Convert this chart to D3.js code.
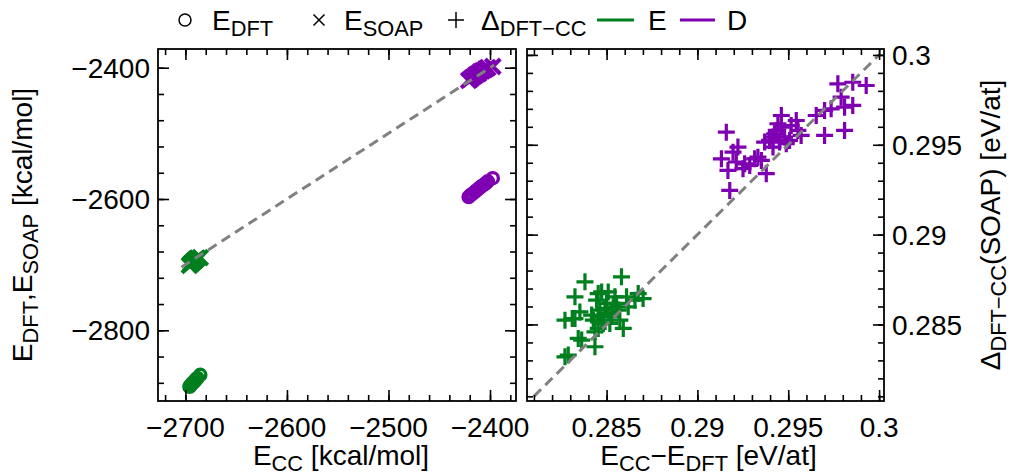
<!DOCTYPE html>
<html>
<head>
<meta charset="utf-8">
<script src="https://cdn.jsdelivr.net/npm/d3@7"></script>
<style>
  html, body { margin: 0; padding: 0; background: #fff; }
  svg text { font-family: "Liberation Sans", Arial, Helvetica, sans-serif; fill: #000; }
</style>
</head>
<body>
<svg id="chart" width="1011" height="472"></svg>
<script>
// ---------------- DATA ----------------
const seriesNames = ["E", "D"];

// Left panel: energies in kcal/mol
const eCC_E   = [-2696, -2695.2, -2694.1, -2693.5, -2692.4, -2691.8, -2691, -2690.3, -2689.6, -2689, -2688.2, -2685.4];
const eDFT_E  = [-2886, -2884.5, -2882.3, -2881, -2879.6, -2878.8, -2877.5, -2876.4, -2875, -2874.1, -2872.6, -2867.8];
const eSOAP_E = [-2701, -2699.4, -2698.5, -2697, -2695.8, -2694.6, -2693.9, -2692.5, -2692, -2690.8, -2690.1, -2689.2];

const eCC_D   = [-2421, -2419.3, -2417.6, -2415.2, -2413.5, -2411.4, -2409.8, -2407.6, -2405.1, -2403.4, -2402.2, -2397.3];
const eDFT_D  = [-2597, -2594.2, -2592.4, -2589.5, -2587.1, -2584.6, -2582.3, -2579.8, -2577.2, -2575, -2573.1, -2568.3];
const eSOAP_D = [-2419.2, -2417.5, -2415.1, -2412.4, -2410.3, -2408.9, -2406.2, -2404.8, -2402.7, -2401.1, -2399.8, -2398.2];

// Left panel reference line (y = x) endpoints
const diagLeft = [-2704, -2396];

// Right panel: E_CC - E_DFT (x) vs Delta_DFT-CC(SOAP) (y), eV/atom
const dX_E = [0.28271,0.28289,0.28271,0.28311,0.28326,0.28381,0.28582,0.28353,0.28344,0.28363,0.28436,0.28436,0.28454,0.28454,0.28473,0.28509,0.28546,0.28491,0.28463,0.28454,0.28473,0.28509,0.28527,0.28555,0.28564,0.28592,0.28619,0.28610,0.28674,0.28701,0.28427,0.28500,0.28445,0.28518,0.28482,0.28418,0.28573,0.28537,0.28656,0.28326];
const dY_E = [0.28320,0.28330,0.28524,0.28533,0.28654,0.28737,0.28765,0.28570,0.28422,0.28413,0.28376,0.28459,0.28478,0.28672,0.28681,0.28681,0.28654,0.28589,0.28580,0.28543,0.28524,0.28543,0.28561,0.28617,0.28580,0.28478,0.28598,0.28654,0.28672,0.28644,0.28524,0.28617,0.28635,0.28506,0.28506,0.28552,0.28524,0.28598,0.28635,0.28533];

const dX_D = [0.29159,0.29178,0.29132,0.29168,0.29196,0.29223,0.29214,0.29251,0.29260,0.29288,0.29315,0.29333,0.29352,0.29379,0.29370,0.29397,0.29416,0.29425,0.29434,0.29462,0.29462,0.29480,0.29489,0.29544,0.29553,0.29571,0.29507,0.29452,0.29654,0.29700,0.29700,0.29810,0.29773,0.29855,0.29929,0.29791,0.29855,0.29810,0.29736,0.29443,0.29516,0.29416];
const dY_D = [0.29570,0.29246,0.29422,0.29357,0.29459,0.29487,0.29404,0.29367,0.29394,0.29385,0.29422,0.29431,0.29413,0.29339,0.29515,0.29524,0.29543,0.29561,0.29580,0.29663,0.29598,0.29543,0.29506,0.29635,0.29580,0.29552,0.29524,0.29515,0.29663,0.29691,0.29552,0.29580,0.29839,0.29848,0.29830,0.29765,0.29719,0.29709,0.29700,0.29617,0.29607,0.29487];

// Right panel reference line (y = x) endpoints
const diagRight = [0.281, 0.300];

// Axis domains and ticks
const leftXDomain = [-2727, -2374.4];
const leftYDomain = [-2907.7, -2371.5];
const leftXMajor = [-2700, -2600, -2500, -2400];
const leftXMinor = d3.range(-2720, -2379, 20);
const leftYMajor = [-2400, -2600, -2800];
const leftYMinor = d3.range(-2880, -2399, 40);

const rightXDomain = [0.28062, 0.30027];
const rightYDomain = [0.28074, 0.30033];
const rightXMajor = [0.285, 0.29, 0.295, 0.3];
const rightXLabels = ["0.285", "0.29", "0.295", "0.3"];
const rightYMajor = [0.285, 0.29, 0.295, 0.3];
const rightYLabels = ["0.285", "0.29", "0.295", "0.3"];
const rightMinor = d3.range(281, 301).map(v => v / 1000);

// ---------------- STYLE / LAYOUT ----------------
const COLORS = { E: "#007f1f", D: "#7f00b2" };
const GRAY = "#808080";
const FS = 28;
const SUB = 0.78;
const PL = { x0: 158, x1: 516, y0: 49, y1: 401 };
const PR = { x0: 527, x1: 884, y0: 49, y1: 401 };
const MAJ = 11, MIN = 6;

const svg = d3.select("#chart");

function rich(sel, parts, fs) {
  let shift = 0;
  parts.forEach(p => {
    const [t, sub] = p;
    const ts = sel.append("tspan").text(t);
    if (sub) {
      const d = fs * 0.2;
      ts.attr("font-size", fs * SUB).attr("dy", d - shift);
      shift = d;
    } else {
      ts.attr("font-size", fs);
      if (shift) ts.attr("dy", -shift);
      shift = 0;
    }
  });
}

const fmtMinus = v => String(v).replace("-", "\u2212");

function panel(P, xs, ys, opts) {
  const g = svg.append("g");
  const clipId = "clip" + opts.id;
  svg.append("clipPath").attr("id", clipId).append("rect")
    .attr("x", P.x0).attr("y", P.y0).attr("width", P.x1 - P.x0).attr("height", P.y1 - P.y0);
  const plot = g.append("g").attr("clip-path", `url(#${clipId})`);

  const mk = (axisFn, scale, vals, len) => axisFn(scale).tickValues(vals).tickSize(len).tickFormat("");
  const axes = g.append("g").attr("class", "axes");
  [[P.y1, d3.axisTop], [P.y0, d3.axisBottom]].forEach(([y, fn]) => {
    axes.append("g").attr("transform", `translate(0,${y})`).call(mk(fn, xs, opts.xMinor, MIN));
    axes.append("g").attr("transform", `translate(0,${y})`).call(mk(fn, xs, opts.xMajor, MAJ));
  });
  [[P.x0, d3.axisRight], [P.x1, d3.axisLeft]].forEach(([x, fn]) => {
    axes.append("g").attr("transform", `translate(${x},0)`).call(mk(fn, ys, opts.yMinor, MIN));
    axes.append("g").attr("transform", `translate(${x},0)`).call(mk(fn, ys, opts.yMajor, MAJ));
  });
  axes.selectAll(".domain").remove();
  axes.selectAll("text").remove();
  axes.selectAll("line").attr("stroke", "#000").attr("stroke-width", 1.6);

  const lab = g.append("g");
  opts.xMajor.forEach((v, i) => {
    lab.append("text").attr("x", xs(v)).attr("y", P.y1 + 36).attr("text-anchor", "middle")
      .attr("font-size", FS).text(opts.xLabels[i]);
  });
  opts.yMajor.forEach((v, i) => {
    const t = lab.append("text").attr("y", ys(v) + FS * 0.36).attr("font-size", FS).text(opts.yLabels[i]);
    if (opts.yLabelSide === "left") t.attr("x", P.x0 - 8).attr("text-anchor", "end");
    else t.attr("x", P.x1 + 8).attr("text-anchor", "start");
  });

  g.append("rect").attr("x", P.x0).attr("y", P.y0).attr("width", P.x1 - P.x0).attr("height", P.y1 - P.y0)
    .attr("fill", "none").attr("stroke", "#000").attr("stroke-width", 1.8);
  return plot;
}

// ---------- Left panel ----------
const xL = d3.scaleLinear().domain(leftXDomain).range([PL.x0, PL.x1]);
const yL = d3.scaleLinear().domain(leftYDomain).range([PL.y1, PL.y0]);
const plotL = panel(PL, xL, yL, {
  id: "L", xMajor: leftXMajor, xMinor: leftXMinor, yMajor: leftYMajor, yMinor: leftYMinor,
  xLabels: leftXMajor.map(fmtMinus), yLabels: leftYMajor.map(fmtMinus), yLabelSide: "left"
});

function crossX(g, x, y, s, color, w) {
  g.append("path").attr("d", `M${x - s},${y - s}L${x + s},${y + s}M${x - s},${y + s}L${x + s},${y - s}`)
    .attr("stroke", color).attr("stroke-width", w).attr("fill", "none");
}
function plus(g, x, y, s, color, w) {
  g.append("path").attr("d", `M${x - s},${y}L${x + s},${y}M${x},${y - s}L${x},${y + s}`)
    .attr("stroke", color).attr("stroke-width", w).attr("fill", "none");
}

const leftSets = [
  { name: "E", cc: eCC_E, dft: eDFT_E, soap: eSOAP_E },
  { name: "D", cc: eCC_D, dft: eDFT_D, soap: eSOAP_D }
];
leftSets.forEach(s => {
  s.cc.forEach((c, i) => {
    plotL.append("circle").attr("cx", xL(c)).attr("cy", yL(s.dft[i])).attr("r", 5.6)
      .attr("fill", "none").attr("stroke", COLORS[s.name]).attr("stroke-width", 3.4);
  });
  s.cc.forEach((c, i) => crossX(plotL, xL(c), yL(s.soap[i]), 7.5, COLORS[s.name], 4));
});
plotL.append("line")
  .attr("x1", xL(diagLeft[0])).attr("y1", yL(diagLeft[0]))
  .attr("x2", xL(diagLeft[1])).attr("y2", yL(diagLeft[1]))
  .attr("stroke", GRAY).attr("stroke-width", 3).attr("stroke-dasharray", "10,6");

// ---------- Right panel ----------
const xR = d3.scaleLinear().domain(rightXDomain).range([PR.x0, PR.x1]);
const yR = d3.scaleLinear().domain(rightYDomain).range([PR.y1, PR.y0]);
const plotR = panel(PR, xR, yR, {
  id: "R", xMajor: rightXMajor, xMinor: rightMinor, yMajor: rightYMajor, yMinor: rightMinor,
  xLabels: rightXLabels, yLabels: rightYLabels, yLabelSide: "right"
});
[["E", dX_E, dY_E], ["D", dX_D, dY_D]].forEach(([n, xsArr, ysArr]) => {
  xsArr.forEach((v, i) => plus(plotR, xR(v), yR(ysArr[i]), 8.5, COLORS[n], 3.2));
});
plotR.append("line")
  .attr("x1", xR(diagRight[0])).attr("y1", yR(diagRight[0]))
  .attr("x2", xR(diagRight[1])).attr("y2", yR(diagRight[1]))
  .attr("stroke", GRAY).attr("stroke-width", 3).attr("stroke-dasharray", "10,6");

// ---------- Axis titles ----------
const tx1 = svg.append("text").attr("x", (PL.x0 + PL.x1) / 2 + 4).attr("y", 465).attr("text-anchor", "middle");
rich(tx1, [["E"], ["CC", 1], [" [kcal/mol]"]], FS);
const tx2 = svg.append("text").attr("x", (PR.x0 + PR.x1) / 2 + 3).attr("y", 465).attr("text-anchor", "middle");
rich(tx2, [["E"], ["CC", 1], ["\u2212E"], ["DFT", 1], [" [eV/at]"]], FS);
const ty1 = svg.append("text").attr("transform", `translate(32,${(PL.y0 + PL.y1) / 2}) rotate(-90)`).attr("text-anchor", "middle");
rich(ty1, [["E"], ["DFT", 1], [",E"], ["SOAP", 1], [" [kcal/mol]"]], FS);
const ty2 = svg.append("text").attr("transform", `translate(1000,${(PR.y0 + PR.y1) / 2}) rotate(-90)`).attr("text-anchor", "middle");
rich(ty2, [["\u0394"], ["DFT\u2212CC", 1], ["(SOAP) [eV/at]"]], FS);

// ---------- Legend ----------
const leg = svg.append("g");
const LY = 20;
leg.append("circle").attr("cx", 185).attr("cy", LY).attr("r", 6).attr("fill", "none").attr("stroke", "#000").attr("stroke-width", 1.5);
rich(leg.append("text").attr("x", 212).attr("y", LY + 10), [["E"], ["DFT", 1]], FS);
crossX(leg, 319, LY, 5.5, "#000", 1.5);
rich(leg.append("text").attr("x", 344).attr("y", LY + 10), [["E"], ["SOAP", 1]], FS);
plus(leg, 456, LY, 8, "#000", 1.5);
rich(leg.append("text").attr("x", 481).attr("y", LY + 10), [["\u0394"], ["DFT\u2212CC", 1]], FS);
leg.append("line").attr("x1", 597).attr("x2", 634).attr("y1", LY).attr("y2", LY).attr("stroke", COLORS.E).attr("stroke-width", 3);
leg.append("text").attr("x", 648).attr("y", LY + 10).attr("font-size", FS).text(seriesNames[0]);
leg.append("line").attr("x1", 680).attr("x2", 715).attr("y1", LY).attr("y2", LY).attr("stroke", COLORS.D).attr("stroke-width", 3);
leg.append("text").attr("x", 727).attr("y", LY + 10).attr("font-size", FS).text(seriesNames[1]);
</script>
</body>
</html>
